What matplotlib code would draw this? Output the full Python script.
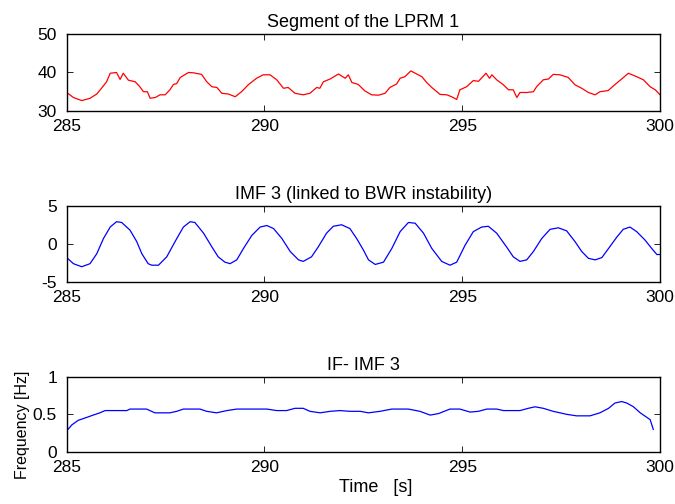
import numpy as np
import matplotlib
matplotlib.use('Agg')
import matplotlib.pyplot as plt
import matplotlib.ticker as ticker

# LPRM 1 segment
lprm_t = [285.00, 285.17, 285.38, 285.59, 285.76, 285.88, 286.01, 286.10, 286.26, 286.35,
          286.43, 286.56, 286.73, 286.85, 286.94, 287.04, 287.11, 287.24, 287.36, 287.49,
          287.61, 287.70, 287.78, 287.87, 288.08, 288.21, 288.41, 288.54, 288.67, 288.80,
          288.92, 289.09, 289.26, 289.42, 289.59, 289.80, 289.97, 290.14, 290.31, 290.48,
          290.60, 290.77, 290.98, 291.15, 291.32, 291.40, 291.49, 291.66, 291.87, 292.04,
          292.12, 292.21, 292.37, 292.54, 292.71, 292.88, 293.05, 293.17, 293.34, 293.43,
          293.55, 293.70, 293.85, 293.98, 294.10, 294.23, 294.44, 294.61, 294.73, 294.86,
          294.94, 295.11, 295.28, 295.41, 295.60, 295.69, 295.75, 295.87, 296.04, 296.17,
          296.29, 296.38, 296.46, 296.63, 296.80, 296.88, 297.05, 297.18, 297.30, 297.47,
          297.68, 297.85, 298.02, 298.19, 298.36, 298.48, 298.69, 298.82, 299.03, 299.20,
          299.41, 299.58, 299.75, 299.88, 300.00]
lprm_v = [34.8, 33.5, 32.7, 33.3, 34.4, 35.9, 37.6, 39.8, 40.0, 38.2,
          39.8, 38.0, 37.6, 36.3, 35.0, 35.0, 33.3, 33.5, 34.2, 34.2,
          35.5, 36.9, 37.1, 38.7, 40.0, 39.9, 39.5, 37.6, 36.3, 36.1,
          34.6, 34.4, 33.7, 35.0, 36.8, 38.5, 39.4, 39.4, 38.1, 35.9,
          36.1, 34.6, 34.2, 34.6, 36.1, 35.9, 37.6, 38.3, 39.6, 38.5,
          39.4, 37.4, 36.9, 35.2, 34.2, 34.1, 34.6, 36.1, 37.0, 38.5,
          38.9, 40.4, 39.6, 38.9, 37.4, 36.1, 34.3, 34.2, 33.7, 33.0,
          35.5, 36.3, 37.9, 37.7, 39.8, 38.5, 39.4, 38.1, 36.8, 35.5,
          35.5, 33.5, 34.8, 34.8, 35.0, 36.3, 38.1, 38.3, 39.5, 39.4,
          38.7, 36.8, 35.9, 34.8, 34.2, 35.0, 35.3, 36.5, 38.3, 39.8,
          38.9, 38.1, 36.3, 35.5, 34.2]

# IMF 3
imf_t = [285.00, 285.17, 285.38, 285.59, 285.76, 285.93, 286.10, 286.26, 286.39, 286.60,
         286.77, 286.90, 287.06, 287.15, 287.32, 287.53, 287.74, 287.95, 288.12, 288.24,
         288.46, 288.67, 288.83, 289.00, 289.13, 289.30, 289.47, 289.68, 289.89, 290.06,
         290.23, 290.44, 290.65, 290.86, 290.98, 291.19, 291.36, 291.57, 291.74, 291.95,
         292.16, 292.33, 292.50, 292.63, 292.80, 293.01, 293.22, 293.43, 293.64, 293.81,
         294.02, 294.23, 294.48, 294.69, 294.86, 295.07, 295.28, 295.49, 295.66, 295.87,
         296.12, 296.29, 296.46, 296.63, 296.80, 297.01, 297.22, 297.43, 297.64, 297.85,
         298.02, 298.19, 298.36, 298.53, 298.70, 298.91, 299.07, 299.24, 299.41, 299.62,
         299.79, 299.92, 300.00]
imf_v = [-1.8, -2.6, -3.0, -2.6, -1.3, 0.7, 2.2, 2.9, 2.8, 1.8,
         0.3, -1.3, -2.6, -2.8, -2.8, -1.7, 0.3, 2.2, 2.9, 2.8,
         1.4, -0.4, -1.7, -2.4, -2.6, -2.1, -0.6, 1.1, 2.2, 2.4,
         2.0, 0.7, -1.0, -2.1, -2.3, -1.7, -0.4, 1.4, 2.3, 2.5,
         2.0, 0.7, -0.8, -2.1, -2.7, -2.4, -0.6, 1.6, 2.8, 2.7,
         1.4, -0.6, -2.3, -2.8, -2.4, -0.2, 1.6, 2.2, 2.3, 1.4,
         -0.4, -1.7, -2.3, -2.1, -1.0, 0.7, 1.9, 2.1, 1.7, 0.3,
         -1.0, -1.9, -2.1, -1.8, -0.6, 0.9, 1.9, 2.2, 1.6, 0.5,
         -0.6, -1.4, -1.4]

# instantaneous frequency of IMF 3
if_t = [285.00, 285.13, 285.29, 285.51, 285.67, 285.84, 285.97, 286.14, 286.52, 286.60,
        287.02, 287.23, 287.61, 287.78, 287.95, 288.37, 288.54, 288.79, 289.05, 289.30,
        290.06, 290.31, 290.56, 290.77, 290.98, 291.15, 291.41, 291.66, 291.91, 292.16,
        292.42, 292.63, 292.92, 293.22, 293.64, 293.93, 294.19, 294.40, 294.69, 294.94,
        295.20, 295.41, 295.62, 295.87, 296.04, 296.46, 296.67, 296.84, 297.05, 297.30,
        297.64, 297.89, 298.23, 298.48, 298.70, 298.86, 299.03, 299.16, 299.33, 299.50,
        299.75, 299.83]
if_v = [0.28, 0.36, 0.42, 0.46, 0.49, 0.52, 0.55, 0.55, 0.55, 0.57,
        0.57, 0.52, 0.52, 0.54, 0.57, 0.57, 0.54, 0.52, 0.55, 0.57,
        0.57, 0.55, 0.55, 0.58, 0.58, 0.54, 0.52, 0.54, 0.55, 0.54,
        0.54, 0.52, 0.54, 0.57, 0.57, 0.54, 0.49, 0.51, 0.57, 0.57,
        0.53, 0.54, 0.57, 0.57, 0.55, 0.55, 0.58, 0.60, 0.58, 0.54,
        0.50, 0.48, 0.48, 0.52, 0.58, 0.65, 0.67, 0.65, 0.60, 0.52,
        0.43, 0.30]

plt.rcParams['font.family'] = ['Liberation Sans', 'DejaVu Sans']


def fmt(ax, yticks, title):
    ax.set_xlim(285, 300)
    ax.set_ylim(yticks[0], yticks[-1])
    ax.xaxis.set_major_locator(ticker.FixedLocator([285, 290, 295, 300]))
    ax.yaxis.set_major_locator(ticker.FixedLocator(yticks))
    ax.yaxis.set_major_formatter(ticker.FuncFormatter(lambda v, p: '%g' % v))
    ax.tick_params(direction='in', length=4.5, width=0.6, top=True, right=True,
                   labelsize=12.5)
    ax.tick_params(axis='x', pad=5.5)
    ax.tick_params(axis='y', pad=7)
    for s in ax.spines.values():
        s.set_linewidth(1.0)
    ax.set_title(title, fontsize=13, pad=5)


fig = plt.figure(figsize=(6.75, 5.04), dpi=100)
ax1 = fig.add_axes([0.0988, 0.7798, 0.879, 0.1528])
ax2 = fig.add_axes([0.0988, 0.4405, 0.879, 0.1514])
ax3 = fig.add_axes([0.0988, 0.1032, 0.879, 0.1494])

ax1.plot(lprm_t, lprm_v, color='#ff0000', lw=0.9)
fmt(ax1, [30, 40, 50], 'Segment of the LPRM 1')

ax2.plot(imf_t, imf_v, color='#0000ff', lw=0.9)
fmt(ax2, [-5, 0, 5], 'IMF 3 (linked to BWR instability)')

ax3.plot(if_t, if_v, color='#0000ff', lw=0.9)
fmt(ax3, [0, 0.5, 1], 'IF- IMF 3')
ax3.set_ylabel('Frequency [Hz]', fontsize=11.5, va='center')
ax3.yaxis.set_label_coords(-0.0737, 0.36)
ax3.set_xlabel('Time   [s]', fontsize=13, labelpad=3.5, x=0.521)

fig.savefig('out.png', dpi=100)
